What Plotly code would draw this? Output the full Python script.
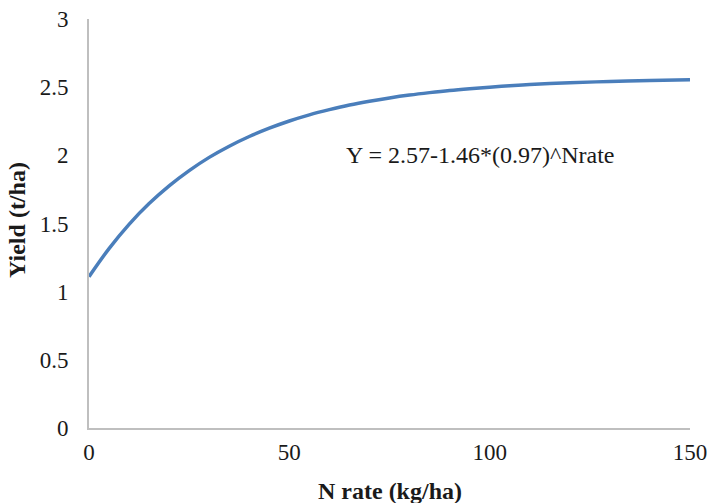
import plotly.graph_objects as go

n_rate = [0, 5, 10, 15, 20, 25, 30, 35, 40, 45, 50, 55, 60, 65, 70, 75, 80, 85, 90, 95, 100, 105, 110, 115, 120, 130, 140, 150]
yield_t = [1.11, 1.316, 1.494, 1.646, 1.776, 1.888, 1.985, 2.067, 2.138, 2.199, 2.252, 2.297, 2.335, 2.369, 2.397, 2.421, 2.442, 2.460, 2.476, 2.489, 2.500, 2.510, 2.519, 2.526, 2.532, 2.542, 2.549, 2.555]
x_ticks = [0, 50, 100, 150]
y_ticks = [0, 0.5, 1, 1.5, 2, 2.5, 3]
y_tick_labels = ["0", "0.5", "1", "1.5", "2", "2.5", "3"]
equation = "Y = 2.57-1.46*(0.97)^Nrate"
x_title = "N rate (kg/ha)"
y_title = "Yield (t/ha)"

font_family = "Liberation Serif, Times New Roman, serif"
txt = "#1a1a1a"

fig = go.Figure()
fig.add_trace(go.Scatter(
    x=n_rate, y=yield_t, mode="lines",
    line=dict(color="#4A7EBB", width=3.5, shape="spline", smoothing=1.0),
    showlegend=False, hoverinfo="skip"))

fig.add_annotation(x=97.6, y=2.0, xref="x", yref="y", text=equation,
                   showarrow=False, font=dict(family=font_family, size=24, color=txt),
                   xanchor="center", yanchor="middle")
fig.add_annotation(x=0.5, y=-0.154, xref="paper", yref="paper", text="<b>" + x_title + "</b>",
                   showarrow=False, font=dict(family=font_family, size=24, color=txt),
                   xanchor="center", yanchor="middle")
fig.add_annotation(x=-0.119, y=0.51, xref="paper", yref="paper", text="<b>" + y_title + "</b>",
                   showarrow=False, textangle=-90, font=dict(family=font_family, size=24, color=txt),
                   xanchor="center", yanchor="middle")

fig.update_layout(
    width=709, height=503,
    margin=dict(l=89, r=19, t=19, b=75),
    plot_bgcolor="white", paper_bgcolor="white",
    font=dict(family=font_family, size=23, color=txt),
    xaxis=dict(range=[0, 150], tickvals=x_ticks, showgrid=False, zeroline=False,
               showline=True, linecolor="#BFBFBF", linewidth=2, ticks="",
               tickfont=dict(size=23, color=txt), ticklabelstandoff=2, automargin=False),
    yaxis=dict(range=[0, 3], tickvals=y_ticks, ticktext=y_tick_labels, showgrid=False,
               zeroline=False, showline=True, linecolor="#BFBFBF", linewidth=2, ticks="",
               tickfont=dict(size=23, color=txt), ticklabelstandoff=14, automargin=False),
)

fig.write_html("out.html", config={"displayModeBar": False},
               post_script="document.body.style.margin='0';document.body.style.overflow='hidden';")
